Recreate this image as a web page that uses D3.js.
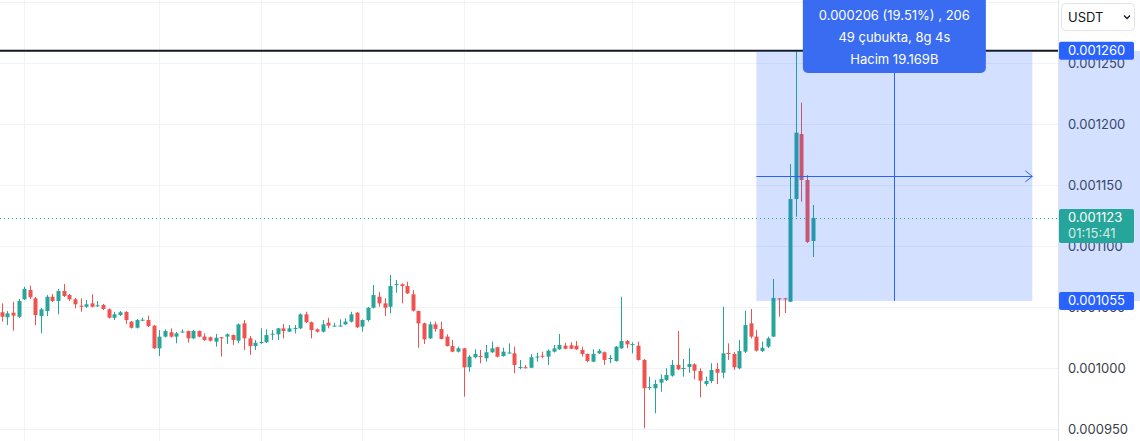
<!DOCTYPE html>
<html><head><meta charset="utf-8">
<script src="https://cdn.jsdelivr.net/npm/d3@7"></script>
<style>
html,body{margin:0;padding:0;background:#fff;overflow:hidden}
svg{display:block;font-family:Inter,"Noto Sans",sans-serif}
</style></head><body><svg id="c" width="1140" height="441"></svg>
<script>
// prices in micro-USDT (1e-6)
const UNIT = 1e-6;
const open = [1045.7,1041.6,1045.3,1042.0,1056.3,1063.9,1057.1,1042.6,1046.7,1058.4,
1054.9,1063.1,1059.8,1056.3,1051.1,1050.2,1053.0,1050.6,1051.6,1048.1,
1041.2,1043.4,1045.9,1038.0,1033.0,1039.1,1039.3,1034.7,1016.1,1025.7,
1029.3,1025.7,1029.5,1030.3,1024.3,1030.3,1025.7,1025.2,1021.6,1025.2,
1025.7,1027.0,1022.4,1036.6,1024.3,1018.0,1020.9,1021.1,1027.6,1027.6,
1032.5,1029.8,1032.4,1032.5,1044.0,1037.5,1031.7,1029.8,1037.1,1034.2,
1034.4,1035.8,1038.0,1045.3,1033.9,1039.3,1049.4,1058.4,1053.0,1050.2,
1068.4,1068.6,1067.2,1060.4,1046.7,1036.6,1024.3,1035.8,1032.0,1025.7,
1018.0,1013.4,1016.1,1000.6,1008.8,1009.8,1008.0,1012.9,1017.0,1009.8,
1012.3,1012.0,1000.4,1000.6,1000.2,1009.0,1010.1,1009.3,1013.4,1015.3,
1018.3,1018.6,1018.3,1014.8,1011.5,1005.2,1012.0,1012.9,1007.7,1005.7,
1016.1,1022.1,1019.2,1018.3,1006.6,983.9,983.4,988.0,990.2,993.7,
1002.5,999.5,1000.8,1003.0,997.5,986.9,989.3,999.2,996.1,1012.3,
1011.5,999.8,1013.4,1036.6,1025.7,1013.9,1017.5,1025.7,1057.1,1057.1,
1054.3,1138.5,1191.8,1154.1,1104.1];
const high = [1053.0,1046.7,1054.3,1056.6,1066.6,1067.5,1058.2,1049.2,1059.8,1060.7,
1064.8,1068.9,1060.7,1057.4,1057.1,1055.7,1060.4,1054.9,1052.5,1048.8,
1046.1,1046.7,1046.7,1038.5,1040.2,1041.2,1042.9,1035.2,1031.1,1031.7,
1032.5,1029.5,1031.7,1030.7,1031.1,1030.7,1028.4,1025.8,1027.9,1025.4,
1028.3,1027.5,1036.5,1039.3,1026.2,1023.0,1032.5,1031.7,1031.1,1033.0,
1036.1,1035.2,1035.2,1044.7,1046.1,1038.1,1032.4,1039.3,1041.2,1037.1,
1039.9,1040.7,1046.1,1045.9,1039.8,1050.0,1068.0,1062.5,1057.1,1076.2,
1072.1,1069.3,1070.7,1063.9,1047.1,1037.3,1038.0,1038.0,1038.0,1027.6,
1023.0,1017.5,1016.4,1010.7,1015.3,1014.8,1018.9,1021.6,1017.5,1016.6,
1020.2,1017.5,1006.6,1002.5,1011.5,1012.5,1013.4,1015.2,1018.9,1027.9,
1020.7,1021.1,1022.1,1017.5,1011.9,1015.3,1015.6,1013.5,1010.7,1018.0,
1058.4,1023.0,1021.1,1021.6,1007.4,992.9,990.2,994.8,999.8,1006.6,
1030.3,1007.4,1016.1,1003.9,999.8,992.9,1003.9,1004.1,1050.2,1020.2,
1013.1,1023.0,1047.0,1048.4,1031.1,1021.6,1025.7,1073.0,1057.4,1057.4,
1167.2,1260.0,1217.5,1158.2,1133.6];
const low = [1038.0,1035.2,1030.6,1041.0,1055.7,1056.6,1035.2,1028.4,1042.6,1054.1,
1044.0,1058.2,1054.9,1048.9,1046.1,1049.2,1049.6,1050.0,1047.5,1040.6,
1039.3,1042.6,1036.1,1032.4,1032.4,1038.5,1033.6,1015.6,1009.8,1025.0,
1025.0,1020.2,1029.1,1020.7,1023.8,1025.2,1022.1,1021.7,1017.5,1009.3,
1019.7,1018.9,1020.2,1014.8,1010.7,1014.8,1019.7,1020.5,1023.0,1023.0,
1024.3,1029.5,1028.4,1032.0,1036.9,1024.3,1029.1,1029.1,1032.5,1034.0,
1034.0,1035.2,1037.3,1032.8,1029.8,1038.0,1048.8,1050.2,1042.6,1044.8,
1061.7,1053.0,1060.7,1046.3,1016.6,1019.7,1023.8,1029.8,1023.4,1017.6,
1012.9,1012.7,976.5,997.0,1007.8,1003.9,1005.2,1012.3,1008.6,1009.3,
1011.9,995.7,998.9,999.6,999.8,1005.2,1008.0,1002.5,1012.7,1014.8,
1015.3,1015.3,1014.8,1009.3,1004.7,1004.7,1011.5,1002.5,1003.9,1005.2,
1015.8,1016.1,1012.0,1006.1,950.6,982.0,962.9,980.6,989.3,992.9,
998.4,992.9,996.1,990.7,976.0,985.2,987.5,986.9,991.6,1006.6,
998.4,998.9,1012.3,1024.3,1013.5,1013.1,1016.4,1025.4,1042.0,1045.1,
1054.1,1124.0,1136.3,1102.5,1091.0];
const close = [1042.0,1044.8,1042.9,1054.9,1064.8,1058.0,1043.4,1048.1,1058.4,1054.9,
1063.1,1059.0,1056.3,1052.2,1050.2,1052.2,1050.2,1051.4,1048.4,1041.2,
1044.0,1045.7,1039.3,1033.0,1039.3,1039.6,1034.4,1016.1,1025.7,1030.3,
1025.7,1028.4,1029.9,1024.3,1030.3,1025.7,1023.0,1022.4,1024.8,1024.3,
1027.6,1023.0,1035.8,1024.3,1018.0,1020.7,1021.3,1027.0,1028.1,1032.5,
1030.3,1032.5,1032.8,1044.0,1037.5,1031.1,1029.8,1035.8,1034.7,1034.7,
1034.8,1038.0,1044.0,1033.4,1039.3,1049.4,1059.8,1053.0,1049.4,1067.2,
1068.9,1067.2,1061.2,1047.0,1036.6,1023.5,1035.8,1032.0,1023.8,1018.0,
1013.4,1016.1,1000.6,1009.3,1011.5,1009.0,1012.9,1016.1,1009.3,1013.4,
1012.7,1002.5,1000.8,1000.0,1008.8,1009.4,1009.6,1014.2,1016.1,1018.9,
1015.8,1015.8,1015.3,1011.5,1005.7,1011.5,1014.2,1006.6,1008.2,1017.5,
1022.1,1019.4,1019.7,1006.6,983.4,984.4,986.9,991.0,994.3,1002.5,
998.9,1000.0,1003.3,997.8,989.6,989.3,998.4,996.1,1012.0,1011.8,
1000.6,1013.9,1035.2,1025.7,1014.2,1016.6,1024.3,1057.4,1056.3,1056.3,
1138.5,1192.9,1154.1,1103.3,1123.0];
const gridTicks = [950,1000,1050,1100,1150,1200,1250,1300];
const priceTicks = [950,1000,1050,1100,1150,1200,1250];
const gridBars = [4,28,46,64,82,112,130];
const measureStartBar = 134, measureBars = 49, measureFrom = 1055, measureTo = 1260;
const lastPrice = 1123, countdown = "01:15:41";
const blackLinePrice = 1260;
const tooltipLines = ["0.000206 (19.51%) , 206","49 çubukta, 8g 4s","Hacim 19.169B"];
const currency = "USDT";

const W = 1140, H = 441, plotR = 1058;
const UP = "#26a69a", DOWN = "#ef5350", BLUE = "#2962ff";
const n = open.length;
const x = d3.scaleLinear().domain([0, n - 1]).range([1.7, 812.7]);
const y = d3.scaleLinear().domain([950, 1300]).range([429, 2]);
const fmt = v => (v * UNIT).toFixed(6);
const svg = d3.select("#c");

// grid
const g = svg.append("g");
g.selectAll("line.h").data(gridTicks).join("line")
  .attr("x1", 0).attr("x2", plotR).attr("y1", d => Math.round(y(d)) + .5).attr("y2", d => Math.round(y(d)) + .5)
  .attr("stroke", "#f0f3fa");
g.selectAll("line.v").data(gridBars).join("line")
  .attr("x1", d => Math.round(x(d)) + .5).attr("x2", d => Math.round(x(d)) + .5).attr("y1", 0).attr("y2", H)
  .attr("stroke", "#f0f3fa");

// last price dotted line
svg.append("line").attr("x1", 0).attr("x2", plotR)
  .attr("y1", Math.round(y(lastPrice)) + .5).attr("y2", Math.round(y(lastPrice)) + .5)
  .attr("stroke", UP).attr("stroke-dasharray", "1,3");

// candles
const idx = d3.range(n);
const cg = svg.append("g");
cg.selectAll("line").data(idx).join("line")
  .attr("x1", i => Math.round(x(i)) + .5).attr("x2", i => Math.round(x(i)) + .5)
  .attr("y1", i => y(high[i])).attr("y2", i => y(low[i]))
  .attr("stroke", i => close[i] >= open[i] ? UP : DOWN);
const bw = 4;
cg.selectAll("rect").data(idx).join("rect")
  .attr("x", i => Math.round(x(i)) + .5 - bw / 2)
  .attr("width", bw)
  .attr("y", i => y(Math.max(open[i], close[i])))
  .attr("height", i => Math.max(1, Math.abs(y(open[i]) - y(close[i]))))
  .attr("fill", i => close[i] >= open[i] ? UP : DOWN);

// black horizontal line
svg.append("line").attr("x1", 0).attr("x2", plotR)
  .attr("y1", y(blackLinePrice)).attr("y2", y(blackLinePrice))
  .attr("stroke", "#131722").attr("stroke-width", 2);

// measure box
const mx1 = x(measureStartBar), mx2 = x(measureStartBar + measureBars);
const my1 = y(measureTo), my2 = y(measureFrom);
svg.append("rect").attr("x", mx1).attr("y", my1).attr("width", mx2 - mx1).attr("height", my2 - my1)
  .attr("fill", BLUE).attr("fill-opacity", 0.2);
const mxc = x(measureStartBar + measureBars / 2);
const myc = y((measureFrom + measureTo) / 2);
svg.append("line").attr("x1", Math.round(mxc) + .5).attr("x2", Math.round(mxc) + .5)
  .attr("y1", my1).attr("y2", my2).attr("stroke", BLUE);
svg.append("line").attr("x1", mx1).attr("x2", mx2).attr("y1", Math.round(myc) + .5).attr("y2", Math.round(myc) + .5)
  .attr("stroke", BLUE);
svg.append("path").attr("d", `M${mx2 - 7},${myc - 5}L${mx2},${myc + .5}L${mx2 - 7},${myc + 6}`)
  .attr("fill", "none").attr("stroke", BLUE);

// tooltip
const tw = 183, th = 80;
svg.append("rect").attr("x", mxc - tw / 2).attr("y", -7).attr("width", tw).attr("height", th).attr("rx", 5)
  .attr("fill", "#3a6cf2");
svg.selectAll("text.tt").data(tooltipLines).join("text")
  .attr("x", mxc).attr("y", (d, i) => 15 + i * 22).attr("dy", "0.35em")
  .attr("text-anchor", "middle").attr("fill", "#fff").attr("font-size", 13).text(d => d);

// price axis
svg.append("rect").attr("x", plotR).attr("y", 0).attr("width", W - plotR).attr("height", H).attr("fill", "#fff");
svg.append("line").attr("x1", plotR + .5).attr("x2", plotR + .5).attr("y1", 0).attr("y2", H).attr("stroke", "#e0e3eb");
const axis = d3.axisRight(y).tickValues(priceTicks).tickSize(0).tickPadding(10).tickFormat(fmt);
const ag = svg.append("g").attr("transform", `translate(${plotR},0)`).call(axis);
ag.select(".domain").remove();
ag.selectAll("text").attr("font-size", 13).attr("fill", "#3b3f4a").attr("font-family", "Inter, sans-serif");

// highlighted range on axis
svg.append("rect").attr("x", plotR + 1).attr("y", my1).attr("width", W - plotR - 1).attr("height", my2 - my1)
  .attr("fill", BLUE).attr("fill-opacity", 0.2);

function label(price, color, lines) {
  const cy = y(price);
  const h = lines.length === 1 ? 18 : 34;
  const top = cy - 9;
  svg.append("rect").attr("x", plotR + 1).attr("y", top).attr("width", 75).attr("height", h)
    .attr("rx", 2).attr("fill", color);
  lines.forEach((t, i) => {
    svg.append("text").attr("x", plotR + 10).attr("y", top + 9 + i * 16).attr("dy", "0.35em")
      .attr("font-size", 13).attr("fill", i === 0 ? "#fff" : "rgba(255,255,255,0.8)").text(t);
  });
}
label(measureTo, BLUE, [fmt(measureTo)]);
label(lastPrice, UP, [fmt(lastPrice), countdown]);
label(measureFrom, BLUE, [fmt(measureFrom)]);

// currency button
svg.append("rect").attr("x", 1061.5).attr("y", 3.5).attr("width", 73).attr("height", 27).attr("rx", 4)
  .attr("fill", "#fff").attr("stroke", "#e0e3eb");
svg.append("text").attr("x", 1068).attr("y", 17).attr("dy", "0.35em").attr("font-size", 13)
  .attr("fill", "#131722").text(currency);
svg.append("path").attr("d", "M1124,15.5L1127,18.5L1130,15.5").attr("fill", "none")
  .attr("stroke", "#131722").attr("stroke-width", 1.3);
</script></body></html>
